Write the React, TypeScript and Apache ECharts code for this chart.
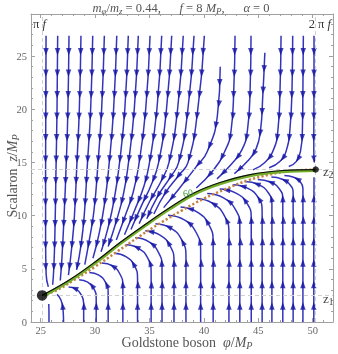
import React, { useEffect, useRef } from "react";
import * as echarts from "echarts";

// ---------- data ----------
const F = 8;
const PI_F = Math.PI * F; // 25.13
const TWO_PI_F = 2 * Math.PI * F; // 50.27

const xMajorTicks = [25, 30, 35, 40, 45, 50];
const xMinorTicks = [26, 27, 28, 29, 31, 32, 33, 34, 36, 37, 38, 39, 41, 42, 43, 44, 46, 47, 48, 49, 51];
const yMajorTicks = [0, 5, 10, 15, 20, 25];
const yMinorTicks = [1, 2, 3, 4, 6, 7, 8, 9, 11, 12, 13, 14, 16, 17, 18, 19, 21, 22, 23, 24, 26, 27, 28];

const z1Point = [25.13, 2.5];
const z2Point = [50.27, 14.33];

const attractorCurve = [
  [25.13, 2.5], [27.69, 3.99], [30.17, 5.78], [32.29, 7.47], [34.59, 9.16], [36.88, 10.76],
  [39.18, 12.17], [41.48, 13.11], [44.24, 13.86], [47.27, 14.24], [50.27, 14.33],
];
const greenCurve = [
  [25.3, 2.48], [27.69, 3.88], [30.17, 5.66], [32.29, 7.35], [34.59, 9.04], [36.88, 10.64],
  [39.18, 12.05], [41.48, 12.99], [44.24, 13.75], [47.27, 14.13], [50.2, 14.24],
];
const dottedCurve = [
  [25.13, 2.5], [26.5, 3.0], [28, 3.9], [30, 5.2], [32, 6.6], [34, 8.0], [36, 9.3], [38, 10.5],
  [40, 11.6], [42, 12.5], [44, 13.3], [46, 13.85], [48, 14.2], [50.27, 14.33],
];

// streamlines flowing down from the top (listed in flow direction)
const streamsFromTop = [
  [[25.49, 26.9], [25.47, 20], [25.45, 14], [25.45, 8], [25.5, 4.5], [25.7, 3.3]],
  [[26.56, 26.9], [26.5, 20], [26.4, 14], [26.3, 8], [26.2, 5], [26.1, 3.5]],
  [[27.6, 26.9], [27.5, 20], [27.35, 15], [27.15, 10], [26.95, 6], [26.8, 3.9]],
  [[28.7, 26.9], [28.55, 20], [28.33, 15], [28.1, 10], [27.85, 7], [27.55, 4.4]],
  [[29.78, 26.9], [29.59, 20], [29.3, 15], [29.0, 10], [28.7, 7.2], [28.3, 4.9]],
  [[30.85, 26.9], [30.6, 20], [30.27, 15], [29.9, 10.5], [29.45, 7.6], [29.05, 5.4]],
  [[31.99, 26.9], [31.7, 20], [31.3, 15], [30.85, 11], [30.3, 8], [29.8, 6.0]],
  [[33.05, 26.9], [32.73, 20], [32.25, 15], [31.75, 11.5], [31.15, 8.7], [30.55, 6.6]],
  [[33.97, 26.9], [33.6, 20], [33.07, 15], [32.6, 12], [31.9, 9.3], [31.2, 7.1]],
  [[35.05, 26.9], [34.65, 20], [34.05, 15], [33.5, 12.2], [32.7, 9.8], [31.95, 7.7]],
  [[36.12, 26.9], [35.68, 20], [35.0, 15], [34.5, 12.8], [33.55, 10.3], [32.7, 8.2]],
  [[37.04, 26.9], [36.56, 20], [35.84, 15], [35.2, 13], [34.2, 10.8], [33.3, 8.7]],
  [[38.1, 26.9], [37.58, 20], [36.79, 15], [36.1, 13.3], [35.0, 11.3], [34.05, 9.25]],
  [[39.09, 26.9], [38.53, 20], [37.68, 15], [36.9, 13.6], [35.75, 11.8], [34.75, 9.7]],
  [[40.04, 26.9], [39.44, 20], [38.54, 15], [37.7, 13.8], [36.5, 12.2], [35.4, 10.15]],
  [[41.5, 24], [41.25, 19.5], [40.3, 16], [39.3, 14.6], [37.7, 12.5], [36.3, 10.75]],
  [[42.86, 26.9], [42.75, 22], [42.5, 18], [41.9, 16], [40.8, 14.2], [39.3, 12.6]],
  [[44.33, 26.9], [44.25, 22], [44.0, 18], [43.5, 16.2], [42.5, 14.8], [41.2, 13.45]],
  [[45.6, 25.3], [45.4, 21], [45.2, 18], [44.8, 16.3], [44.0, 15.1], [42.8, 13.95]],
  [[47.09, 26.9], [47.0, 22], [46.8, 18], [46.4, 16.2], [45.6, 15.0], [44.5, 14.3]],
  [[48.16, 26.9], [48.1, 22], [47.9, 18], [47.6, 16.2], [47.0, 15.1], [46.0, 14.5]],
  [[49.14, 26.9], [49.1, 22], [49.05, 18], [48.9, 16.2], [48.5, 15.1], [47.8, 14.62]],
  [[50.12, 26.9], [50.12, 22], [50.1, 18], [50.1, 16], [50.15, 15.0]],
];

// streamlines flowing up from the bottom (listed in flow direction)
const streamsFromBottom = [
  [[25.76, 0], [25.76, 0.9], [25.74, 1.7]],
  [[27.1, 0], [27.05, 1.2], [26.85, 2.1], [26.5, 2.6]],
  [[28.95, 0], [28.95, 0.9], [28.95, 1.77], [28.75, 2.53], [28.26, 3.09], [27.56, 3.3]],
  [[30.1, 0], [30.1, 1.1], [30.1, 2.24], [29.89, 3.11], [29.32, 3.74], [28.53, 3.97]],
  [[31.2, 0], [31.2, 1.4], [31.2, 2.75], [30.97, 3.7], [30.34, 4.4], [29.47, 4.65]],
  [[32.55, 0], [32.55, 1.7], [32.55, 3.43], [32.29, 4.49], [31.59, 5.27], [30.62, 5.55]],
  [[33.9, 0], [33.9, 2.0], [33.9, 4.11], [33.61, 5.29], [32.83, 6.15], [31.76, 6.46]],
  [[35.15, 0], [35.15, 2.4], [35.15, 4.72], [34.84, 6.0], [33.99, 6.93], [32.83, 7.27]],
  [[36.15, 0], [36.15, 2.6], [36.15, 5.19], [35.82, 6.55], [34.92, 7.55], [33.68, 7.91]],
  [[37.25, 0], [37.25, 2.8], [37.25, 5.68], [36.9, 7.13], [35.93, 8.19], [34.61, 8.58]],
  [[38.35, 0], [38.35, 3.1], [38.35, 6.16], [37.97, 7.7], [36.95, 8.83], [35.55, 9.24]],
  [[39.7, 0], [39.7, 3.4], [39.7, 6.74], [39.3, 8.39], [38.2, 9.6], [36.7, 10.04]],
  [[40.85, 0], [40.85, 3.7], [40.85, 7.5], [40.45, 9.15], [39.35, 10.36], [37.85, 10.8]],
  [[42.3, 0], [42.3, 4.1], [42.3, 8.3], [41.9, 9.95], [40.8, 11.16], [39.3, 11.6]],
  [[43.3, 0], [43.3, 4.5], [43.3, 9.07], [42.9, 10.57], [41.8, 11.67], [40.3, 12.07]],
  [[44.35, 0], [44.35, 4.9], [44.35, 9.8], [43.96, 11.15], [42.9, 12.14], [41.45, 12.5]],
  [[45.35, 0], [45.35, 5.2], [45.35, 10.5], [44.99, 11.7], [44.0, 12.58], [42.65, 12.9]],
  [[46.25, 0], [46.25, 5.5], [46.25, 11.1], [45.92, 12.15], [45.0, 12.92], [43.75, 13.2]],
  [[47.25, 0], [47.25, 5.8], [47.25, 11.6], [46.94, 12.5], [46.1, 13.16], [44.95, 13.4]],
  [[48.2, 0], [48.2, 6], [48.2, 12.12], [47.93, 12.87], [47.2, 13.42], [46.2, 13.62]],
  [[49.1, 0], [49.1, 6.3], [49.1, 12.57], [48.87, 13.17], [48.25, 13.61], [47.4, 13.77]],
  [[50.1, 0], [50.1, 7], [50.12, 13.6]],
];

// ---------- layout / style ----------
const W = 338, H = 354;
const GL = 31, GT = 14, GW = 302, GH = 308;
const XMIN = 24.108, XMAX = 51.865, YMIN = 0, YMAX = 28.95;
const SERIF = "'Liberation Serif', 'DejaVu Serif', serif";
const AXIS_COLOR = "#a0a0a0";
const LABEL_COLOR = "#666";
const STREAM_COLOR = "#3434bb";
const ARROW_COLOR = "#1414a6";
const SMOOTH = 0.5;

const toPx = (p: number[]) => [GL + ((p[0] - XMIN) / (XMAX - XMIN)) * GW, GT + ((YMAX - p[1]) / (YMAX - YMIN)) * GH];
const fromPx = (q: number[]) => [XMIN + ((q[0] - GL) / GW) * (XMAX - XMIN), YMAX - ((q[1] - GT) / GH) * (YMAX - YMIN)];

// replicate ECharts' smoothing in pixel space to place arrow heads on the drawn curves
function sampleSmooth(pts: number[][], smooth: number) {
  const n = pts.length;
  const cpIn: number[][] = [], cpOut: number[][] = [];
  for (let i = 0; i < n; i++) {
    const p = pts[i];
    const prev = i > 0 ? pts[i - 1] : p;
    const next = i < n - 1 ? pts[i + 1] : p;
    const vx = next[0] - prev[0], vy = next[1] - prev[1];
    const l0 = Math.hypot(p[0] - prev[0], p[1] - prev[1]);
    const l1 = Math.hypot(next[0] - p[0], next[1] - p[1]);
    const r = l0 + l1 > 0 ? l1 / (l0 + l1) : 0.5;
    cpIn[i] = [p[0] - vx * smooth * (1 - r), p[1] - vy * smooth * (1 - r)];
    cpOut[i] = [p[0] + vx * smooth * r, p[1] + vy * smooth * r];
  }
  const out: number[][] = [pts[0]];
  for (let i = 0; i < n - 1; i++) {
    const a = pts[i], b = cpOut[i], c = cpIn[i + 1], d = pts[i + 1];
    for (let k = 1; k <= 24; k++) {
      const t = k / 24, m = 1 - t;
      out.push([
        m * m * m * a[0] + 3 * m * m * t * b[0] + 3 * m * t * t * c[0] + t * t * t * d[0],
        m * m * m * a[1] + 3 * m * m * t * b[1] + 3 * m * t * t * c[1] + t * t * t * d[1],
      ]);
    }
  }
  return out;
}

function arrowsFor(stream: number[][]) {
  const px = sampleSmooth(stream.map(toPx), SMOOTH);
  const res: any[] = [];
  let acc = 0;
  let target = 16;
  const step = 21.5;
  let total = 0;
  for (let i = 1; i < px.length; i++) total += Math.hypot(px[i][0] - px[i - 1][0], px[i][1] - px[i - 1][1]);
  for (let i = 1; i < px.length; i++) {
    const a = px[i - 1], b = px[i];
    const seg = Math.hypot(b[0] - a[0], b[1] - a[1]);
    while (seg > 0 && acc + seg >= target && target < total - 3) {
      const t = (target - acc) / seg;
      const q = [a[0] + (b[0] - a[0]) * t, a[1] + (b[1] - a[1]) * t];
      const ang = (Math.atan2(-(b[1] - a[1]), b[0] - a[0]) * 180) / Math.PI;
      res.push({ value: fromPx(q), symbolRotate: ang - 90 });
      target += step;
    }
    acc += seg;
  }
  return res;
}

function rich(size: number, color: string) {
  const lh = Math.round(size * 1.2);
  return {
    n: { fontFamily: SERIF, fontSize: size, fill: color, lineHeight: lh, verticalAlign: "middle" },
    i: { fontFamily: SERIF, fontSize: size, fontStyle: "italic", fill: color, lineHeight: lh, verticalAlign: "middle" },
    s: { fontFamily: SERIF, fontSize: size * 0.72, fontStyle: "italic", fill: color, lineHeight: Math.round(size * 0.6), verticalAlign: "bottom" },
    u: { fontFamily: SERIF, fontSize: size * 0.72, fill: color, lineHeight: Math.round(size * 0.6), verticalAlign: "bottom" },
  };
}

function makeXAxis(position: string, major: boolean, showLine: boolean, showLabel: boolean) {
  return {
    type: "value", gridIndex: 0, position, min: XMIN, max: XMAX,
    axisLine: { show: showLine, onZero: false, lineStyle: { color: AXIS_COLOR, width: 1 } },
    axisTick: { show: true, inside: true, length: major ? 4 : 2, customValues: major ? xMajorTicks : xMinorTicks, lineStyle: { color: AXIS_COLOR, width: 1 } },
    axisLabel: { show: showLabel, customValues: xMajorTicks, color: LABEL_COLOR, fontFamily: SERIF, fontSize: 10.5, margin: 3 },
    splitLine: { show: false },
  };
}
function makeYAxis(position: string, major: boolean, showLine: boolean, showLabel: boolean) {
  return {
    type: "value", gridIndex: 0, position, min: YMIN, max: YMAX,
    axisLine: { show: showLine, onZero: false, lineStyle: { color: AXIS_COLOR, width: 1 } },
    axisTick: { show: true, inside: true, length: major ? 4 : 2, customValues: major ? yMajorTicks : yMinorTicks, lineStyle: { color: AXIS_COLOR, width: 1 } },
    axisLabel: { show: showLabel, customValues: yMajorTicks, color: LABEL_COLOR, fontFamily: SERIF, fontSize: 10.5, margin: 4 },
    splitLine: { show: false },
  };
}

export default function App() {
  const ref = useRef<HTMLDivElement>(null);
  useEffect(() => {
    const el = ref.current;
    if (!el) return;
    const chart = echarts.init(el, null, { renderer: "svg" });

    const streams = [...streamsFromTop, ...streamsFromBottom];
    const streamSeries = streams.map((s) => ({
      type: "line", xAxisIndex: 0, yAxisIndex: 0, data: s, smooth: SMOOTH, symbol: "none",
      silent: true, z: 2, lineStyle: { color: STREAM_COLOR, width: 1.5 },
    }));
    const arrowData = streams.flatMap((s) => arrowsFor(s));

    const option: any = {
      animation: false,
      grid: { left: GL, top: GT, width: GW, height: GH, containLabel: false },
      xAxis: [makeXAxis("bottom", true, true, true), makeXAxis("bottom", false, false, false), makeXAxis("top", true, true, false), makeXAxis("top", false, false, false)],
      yAxis: [makeYAxis("left", true, true, true), makeYAxis("left", false, false, false), makeYAxis("right", true, true, false), makeYAxis("right", false, false, false)],
      series: [
        {
          type: "line", xAxisIndex: 0, yAxisIndex: 0, data: [], silent: true, z: 1,
          markLine: {
            silent: true, symbol: "none", label: { show: false }, animation: false,
            lineStyle: { type: [4, 3], color: "#d0d0d0", width: 1 },
            data: [{ xAxis: PI_F }, { xAxis: TWO_PI_F }, { yAxis: z1Point[1] }, { yAxis: z2Point[1] }],
          },
        },
        ...streamSeries,
        {
          type: "scatter", xAxisIndex: 0, yAxisIndex: 0, data: arrowData, symbol: "triangle",
          symbolSize: [5.5, 7.5], silent: true, z: 3, itemStyle: { color: ARROW_COLOR },
        },
        {
          type: "line", xAxisIndex: 0, yAxisIndex: 0, data: dottedCurve, smooth: 0.4, symbol: "none", silent: true, z: 4,
          lineStyle: { color: "#c4823f", width: 2.5, type: [2.2, 2.2] },
        },
        {
          type: "line", xAxisIndex: 0, yAxisIndex: 0, data: greenCurve, smooth: 0.4, symbol: "none", silent: true, z: 5,
          lineStyle: { color: "#74ad2a", width: 3 },
        },
        {
          type: "line", xAxisIndex: 0, yAxisIndex: 0, data: attractorCurve, smooth: 0.4, symbol: "none", silent: true, z: 6,
          lineStyle: { color: "#111", width: 1.2 },
        },
        {
          type: "scatter", xAxisIndex: 0, yAxisIndex: 0, silent: true, z: 7, symbol: "circle",
          data: [{ value: z1Point, symbolSize: 10.5 }, { value: z2Point, symbolSize: 6.5 }],
          itemStyle: { color: "#000" },
        },
      ],
      graphic: [
        {
          type: "text", x: 181, y: 8, z: 10,
          style: {
            text: "{i|m}{s|φ}{n|/}{i|m}{s|z}{n| = 0.44,      }{i|f}{n| = 8 }{i|M}{s|P}{n|,      }{i|α}{n| = 0}",
            rich: rich(12.5, "#555"), align: "center", verticalAlign: "middle",
          },
        },
        {
          type: "text", x: 187, y: 342, z: 10,
          style: { text: "{n|Goldstone boson  }{i|φ}{n|/}{i|M}{s|P}", rich: rich(14, "#555"), align: "center", verticalAlign: "middle" },
        },
        {
          type: "text", x: 12, y: 176, rotation: Math.PI / 2, z: 10,
          style: { text: "{n|Scalaron  }{i|z}{n|/}{i|M}{s|P}", rich: rich(14, "#555"), align: "center", verticalAlign: "middle" },
        },
        {
          type: "text", x: 33, y: 24, z: 10,
          style: { text: "{n|π }{i|f}", rich: rich(12.5, "#333"), align: "left", verticalAlign: "middle" },
        },
        {
          type: "text", x: 331, y: 24, z: 10,
          style: { text: "{n|2 π }{i|f}", rich: rich(12.5, "#333"), align: "right", verticalAlign: "middle" },
        },
        {
          type: "text", x: 323, y: 298, z: 10,
          style: { text: "{n|z}{u|1}", rich: rich(13, "#444"), align: "left", verticalAlign: "middle" },
        },
        {
          type: "text", x: 323, y: 171, z: 10,
          style: { text: "{n|z}{u|2}", rich: rich(13, "#444"), align: "left", verticalAlign: "middle" },
        },
        {
          type: "text", x: 188, y: 193, z: 10, rotation: 0.15,
          style: { text: "60", fontFamily: SERIF, fontSize: 10, fill: "#3c9a3c", align: "center", verticalAlign: "middle" },
        },
      ],
    };
    chart.setOption(option);
    return () => chart.dispose();
  }, []);
  return <div ref={ref} style={{ position: "fixed", left: 0, top: 0, width: W, height: H }} />;
}
